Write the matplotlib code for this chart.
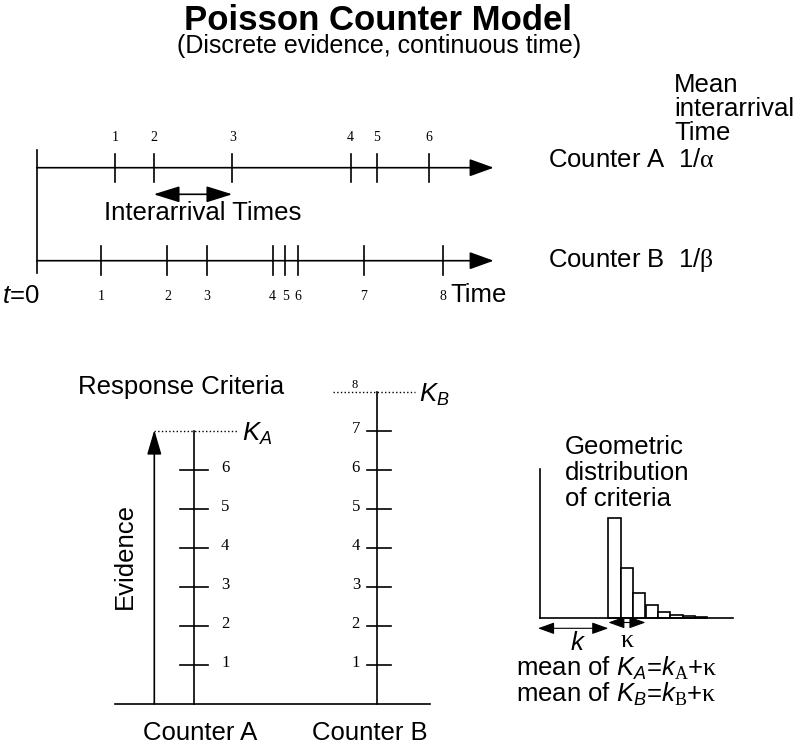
import matplotlib
matplotlib.use('Agg')
import matplotlib.pyplot as plt

plt.rcParams['font.family'] = ['Liberation Sans', 'DejaVu Sans']
plt.rcParams['mathtext.fontset'] = 'custom'
plt.rcParams['mathtext.rm'] = 'Liberation Serif'
plt.rcParams['mathtext.it'] = 'Liberation Sans:italic'
plt.rcParams['mathtext.sf'] = 'Liberation Sans'

# arrival times of evidence (time units, the axis arrow ends at 10)
counter_a_times = [1.71, 2.56, 4.28, 6.87, 7.44, 8.58]
counter_b_times = [1.41, 2.86, 3.73, 5.16, 5.44, 5.72, 7.16, 8.88]
counter_a_labels = ['1', '2', '3', '4', '5', '6']
counter_b_labels = ['1', '2', '3', '4', '5', '6', '7', '8']

# evidence counts and response criteria
evidence_a_ticks = [1, 2, 3, 4, 5, 6]
evidence_b_ticks = [1, 2, 3, 4, 5, 6, 7]
criterion_a = 7
criterion_b = 8

# geometric distribution of criteria (relative bar heights)
geom_heights = [100, 50, 25, 12.5, 6, 3, 1.5, 0.7]

SERIF = 'Liberation Serif'
FS = 18.5
LW = 1.2

fig = plt.figure(figsize=(7.98, 7.49), dpi=100)
ax = fig.add_axes([0, 0, 1, 1])
ax.set_xlim(0, 798)
ax.set_ylim(749, 0)
ax.axis('off')


def arrow(x0, y0, x1, y1, style='-|>', hl=0.75, hw=0.27, lw=LW, ms=20):
    ax.annotate('', xy=(x1, y1), xytext=(x0, y0),
                arrowprops=dict(arrowstyle=f'{style},head_length={hl},head_width={hw}',
                                mutation_scale=ms, lw=lw, color='black',
                                shrinkA=0, shrinkB=0))


# ---- titles
ax.text(378, 20, 'Poisson Counter Model', ha='center', va='center',
        fontsize=25, fontweight='bold')
ax.text(379, 46, '(Discrete evidence, continuous time)', ha='center',
        va='center', fontsize=18)

# ---- time lines
T0, TS = 36.7, 45.7
ya, yb = 167.7, 260.7


def tx(t):
    return T0 + t * TS


ax.plot([T0, T0], [150, 273], color='black', lw=LW)
arrow(T0, ya, tx(10), ya)
arrow(T0, yb, tx(10), yb)

for t, lab in zip(counter_a_times, counter_a_labels):
    ax.plot([tx(t), tx(t)], [ya - 14, ya + 14], color='black', lw=LW)
    ax.text(tx(t), 137.5, lab, ha='center', va='center', fontsize=10,
            family=SERIF)
for t, lab in zip(counter_b_times, counter_b_labels):
    ax.plot([tx(t), tx(t)], [yb - 15, yb + 14], color='black', lw=LW)
    ax.text(tx(t), 297, lab, ha='center', va='center', fontsize=10,
            family=SERIF)

arrow(tx(counter_a_times[1]), 194.3, tx(counter_a_times[2]), 194.3,
      style='<|-|>', hl=0.8, hw=0.25)
ax.text(203, 213, 'Interarrival Times', ha='center', va='center', fontsize=FS)

ax.text(2, 296, '$t$=0', ha='left', va='center', fontsize=FS)
ax.text(450, 295, 'Time', ha='left', va='center', fontsize=FS)

ax.text(674, 85, 'Mean', ha='left', va='center', fontsize=FS)
ax.text(674, 109, 'interarrival', ha='left', va='center', fontsize=FS)
ax.text(674, 133, 'Time', ha='left', va='center', fontsize=FS)
ax.text(548, 160, r'Counter A  1/$\mathrm{\alpha}$', ha='left', va='center',
        fontsize=FS)
ax.text(548, 260, r'Counter B  1/$\mathrm{\beta}$', ha='left', va='center',
        fontsize=FS)

# ---- evidence counters
BASE, STEP = 704, 39
xa, xb, xev = 193.7, 376.7, 154.3


def ey(n):
    return BASE - n * STEP


ax.plot([115, 430], [BASE, BASE], color='black', lw=LW)
arrow(xev, BASE, xev, ey(criterion_a) - 1, hl=0.75, hw=0.22)
ax.plot([xa, xa], [BASE, ey(criterion_a)], color='black', lw=LW)
ax.plot([xb, xb], [BASE, ey(criterion_b)], color='black', lw=LW)

for n in evidence_a_ticks:
    ax.plot([xa - 14, xa + 14], [ey(n), ey(n)], color='black', lw=LW)
    ax.text(221, ey(n) - 2, str(n), ha='left', va='center', fontsize=12,
            family=SERIF)
for n in evidence_b_ticks:
    ax.plot([xb - 10, xb + 14], [ey(n), ey(n)], color='black', lw=LW)
    ax.text(360, ey(n) - 2, str(n), ha='right', va='center', fontsize=12,
            family=SERIF)

ax.plot([xev, 237], [ey(criterion_a), ey(criterion_a)], color='black',
        lw=1.0, ls=':')
ax.text(242, ey(criterion_a) + 3, '$K_A$', ha='left', va='center', fontsize=FS)
ax.plot([333, 415], [ey(criterion_b), ey(criterion_b)], color='black',
        lw=1.0, ls=':')
ax.text(355, ey(criterion_b) - 1, str(criterion_b), ha='center', va='bottom',
        fontsize=9, family=SERIF)
ax.text(419, ey(criterion_b) + 3, '$K_B$', ha='left', va='center', fontsize=FS)

ax.text(181, 387, 'Response Criteria', ha='center', va='center', fontsize=FS)
ax.text(125, 556, 'Evidence', ha='center', va='center', rotation=90,
        fontsize=FS)
ax.text(200, 733, 'Counter A', ha='center', va='center', fontsize=FS)
ax.text(370, 733, 'Counter B', ha='center', va='center', fontsize=FS)

# ---- geometric distribution
HB = 617.5
BW = 12.4
X0 = 608.3
ax.plot([540, 540], [469, HB], color='black', lw=LW)
ax.plot([540, 733], [HB, HB], color='black', lw=LW)
lefts = [X0 + i * BW for i in range(len(geom_heights))]
ax.bar(lefts, [-h for h in geom_heights], bottom=HB, width=BW, align='edge',
       facecolor='white', edgecolor='black', lw=LW)

arrow(538, 628.3, X0, 628.3, style='<|-|>', hl=0.5, hw=0.18, lw=0.8)
arrow(X0, 622.5, X0 + 3 * BW, 622.5, style='<|-|>', hl=0.5, hw=0.18, lw=0.8)
ax.text(578, 643, '$k$', ha='center', va='center', fontsize=FS)
ax.text(627, 640, r'$\mathrm{\kappa}$', ha='center', va='center', fontsize=FS)

ax.text(565, 447, 'Geometric', ha='left', va='center', fontsize=FS)
ax.text(565, 473, 'distribution', ha='left', va='center', fontsize=FS)
ax.text(565, 499, 'of criteria', ha='left', va='center', fontsize=FS)
ax.text(516, 668, r'mean of $K_A$=$k_\mathrm{A}$+$\mathrm{\kappa}$',
        ha='left', va='center', fontsize=FS)
ax.text(516, 694, r'mean of $K_B$=$k_\mathrm{B}$+$\mathrm{\kappa}$',
        ha='left', va='center', fontsize=FS)

fig.savefig('out.png', dpi=100)
